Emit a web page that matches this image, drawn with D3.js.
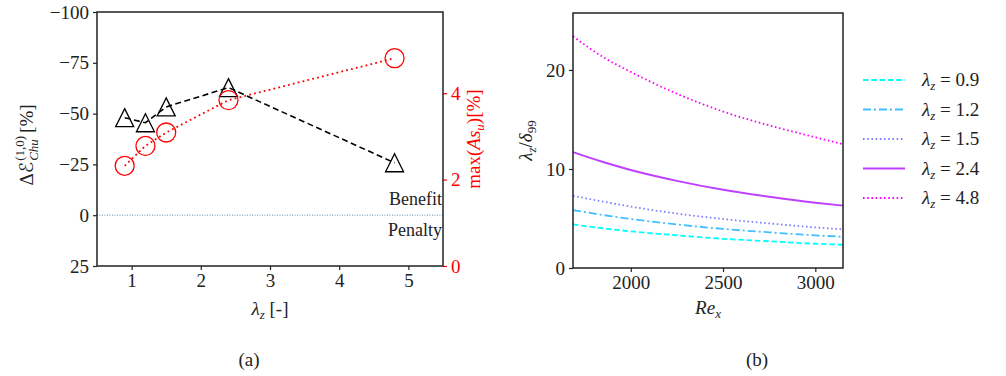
<!DOCTYPE html>
<html>
<head>
<meta charset="utf-8">
<script src="https://cdn.jsdelivr.net/npm/d3@7"></script>
<style>
  body { margin: 0; background: #fff; }
  svg, svg text { font-family: "Liberation Serif", "DejaVu Serif", serif; }
</style>
</head>
<body>
<svg id="chart" width="1006" height="376"></svg>
<script>
// Panel (a): energy change and max amplification vs spanwise wavelength
const lambdaZ = [0.9, 1.2, 1.5, 2.4, 4.8];
const deltaE = [-48, -45.5, -53.3, -62.8, -25.8];
const maxAs = [2.32, 2.78, 3.09, 3.84, 4.81];
const leftTicks = [-100, -75, -50, -25, 0, 25];
const xTicksA = [1, 2, 3, 4, 5];
const rightTicks = [0, 2, 4];

// Panel (b): lambda_z / delta_99 vs Re_x
const reX = [1687, 1850, 2000, 2250, 2500, 2750, 3000, 3150];
const ratio09 = [4.4, 4.0, 3.7, 3.3, 2.95, 2.7, 2.45, 2.35];
const ratio12 = [5.85, 5.35, 4.95, 4.4, 3.95, 3.6, 3.3, 3.15];
const ratio15 = [7.3, 6.7, 6.2, 5.5, 4.95, 4.5, 4.1, 3.9];
const ratio24 = [11.7, 10.7, 9.9, 8.8, 7.9, 7.2, 6.6, 6.3];
const ratio48 = [23.4, 21.3, 19.8, 17.6, 15.8, 14.4, 13.2, 12.5];
const seriesLabels = ['0.9', '1.2', '1.5', '2.4', '4.8'];
const xTicksB = [2000, 2500, 3000];
const yTicksB = [0, 10, 20];

const svg = d3.select('#chart');
const ink = '#222';
const fs = 19;
const fsSmall = 13;

function styleAxis(ax, color) {
  ax.attr('font-family', null).attr('font-size', fs);
  ax.selectAll('.domain').remove();
  ax.selectAll('.tick line').attr('stroke', color).attr('stroke-width', 1.2);
  ax.selectAll('text').attr('fill', color)
    .style('font-family', '"Liberation Serif", serif');
}

// ---------- panel (a) ----------
const A = { left: 97, right: 443, top: 12, bottom: 266 };
const xA = d3.scaleLinear().domain([0.5, 5.5]).range([A.left, A.right]);
const yA = d3.scaleLinear().domain([-100, 25]).range([A.top, A.bottom]);
const yR = d3.scaleLinear().domain([0, 5.88]).range([A.bottom, A.top]);

const ga = svg.append('g');

// zero reference line
ga.append('line')
  .attr('x1', A.left).attr('x2', A.right)
  .attr('y1', yA(0)).attr('y2', yA(0))
  .attr('stroke', '#3a6f9a').attr('stroke-width', 0.8)
  .attr('stroke-dasharray', '1,1.5');

ga.append('text').attr('x', A.right - 1).attr('y', 205).attr('text-anchor', 'end')
  .attr('font-size', 18).attr('fill', ink).text('Benefit');
ga.append('text').attr('x', A.right - 1).attr('y', 236).attr('text-anchor', 'end')
  .attr('font-size', 18).attr('fill', ink).text('Penalty');

// black dashed + triangles
const pairsE = lambdaZ.map((l, i) => [l, deltaE[i]]);
ga.append('path')
  .attr('d', d3.line().x(d => xA(d[0])).y(d => yA(d[1]))(pairsE))
  .attr('fill', 'none').attr('stroke', '#000').attr('stroke-width', 1.6)
  .attr('stroke-dasharray', '6,3.5');
ga.selectAll('path.tri').data(pairsE).enter().append('path')
  .attr('class', 'tri')
  .attr('d', d => {
    const cx = xA(d[0]), cy = yA(d[1]), h = 9;
    return `M${cx},${cy - h}L${cx + h},${cy + h}L${cx - h},${cy + h}Z`;
  })
  .attr('fill', 'none').attr('stroke', '#000').attr('stroke-width', 1.3);

// red dotted + circles
const pairsA = lambdaZ.map((l, i) => [l, maxAs[i]]);
ga.append('path')
  .attr('d', d3.line().x(d => xA(d[0])).y(d => yR(d[1]))(pairsA))
  .attr('fill', 'none').attr('stroke', '#ff0000').attr('stroke-width', 1.8)
  .attr('stroke-dasharray', '1.8,3.2');
ga.selectAll('circle.c').data(pairsA).enter().append('circle')
  .attr('class', 'c')
  .attr('cx', d => xA(d[0])).attr('cy', d => yR(d[1])).attr('r', 9.5)
  .attr('fill', 'none').attr('stroke', '#ff0000').attr('stroke-width', 1.3);

// axes
styleAxis(ga.append('g').attr('transform', `translate(${A.left},0)`)
  .call(d3.axisLeft(yA).tickValues(leftTicks).tickSize(4).tickPadding(4)), ink);
styleAxis(ga.append('g').attr('transform', `translate(0,${A.bottom})`)
  .call(d3.axisBottom(xA).tickValues(xTicksA).tickFormat(d3.format('d')).tickSize(4).tickPadding(4)), ink);
styleAxis(ga.append('g').attr('transform', `translate(${A.right},0)`)
  .call(d3.axisRight(yR).tickValues(rightTicks).tickFormat(d3.format('d')).tickSize(4).tickPadding(4)), '#ff0000');

ga.append('rect')
  .attr('x', A.left).attr('y', A.top)
  .attr('width', A.right - A.left).attr('height', A.bottom - A.top)
  .attr('fill', 'none').attr('stroke', ink).attr('stroke-width', 1.5);

// left axis label with stacked super/subscript
const lblL = ga.append('g')
  .attr('transform', `translate(33,${(A.top + A.bottom) / 2 + 6}) rotate(-90)`)
  .attr('fill', ink);
const tMain = lblL.append('text').attr('font-size', fs);
tMain.append('tspan').text('Δ');
tMain.append('tspan').style('font-family', '"DejaVu Serif", "DejaVu Sans", serif').attr('font-style', 'italic').text('ℰ');
const wMain = tMain.node().getComputedTextLength();
const tSup = lblL.append('text').attr('font-size', fsSmall).attr('x', wMain + 1).attr('y', -9).text('(1,0)');
const tSub = lblL.append('text').attr('font-size', fsSmall).attr('font-style', 'italic')
  .attr('x', wMain + 1).attr('y', 5).text('Chu');
const wStack = Math.max(tSup.node().getComputedTextLength(), tSub.node().getComputedTextLength());
const tPct = lblL.append('text').attr('font-size', fs).attr('x', wMain + wStack + 4).text('[%]');
const wAll = wMain + wStack + 4 + tPct.node().getComputedTextLength();
lblL.selectAll('text').attr('transform', `translate(${-wAll / 2},0)`);

const lblR = ga.append('text')
  .attr('transform', `translate(480,${(A.top + A.bottom) / 2}) rotate(-90)`)
  .attr('text-anchor', 'middle').attr('font-size', fs).attr('fill', '#ff0000');
lblR.append('tspan').text('max(');
lblR.append('tspan').attr('font-style', 'italic').text('As');
lblR.append('tspan').attr('font-style', 'italic').attr('font-size', fsSmall).attr('dy', 4).text('u');
lblR.append('tspan').attr('dy', -4).text(')[%]');

const lblX = ga.append('text').attr('x', (A.left + A.right) / 2).attr('y', 315)
  .attr('text-anchor', 'middle').attr('font-size', fs).attr('fill', ink);
lblX.append('tspan').attr('font-style', 'italic').text('λ');
lblX.append('tspan').attr('font-style', 'italic').attr('font-size', fsSmall).attr('dy', 4).text('z');
lblX.append('tspan').attr('dy', -4).text(' [-]');

ga.append('text').attr('x', 249).attr('y', 366).attr('text-anchor', 'middle')
  .attr('font-size', fs).attr('fill', ink).text('(a)');

// ---------- panel (b) ----------
const B = { left: 573, right: 843, top: 13, bottom: 268 };
const xB = d3.scaleLinear().domain([1687, 3150]).range([B.left, B.right]);
const yB = d3.scaleLinear().domain([0, 25.75]).range([B.bottom, B.top]);
const gb = svg.append('g');

const coolColors = ['#00ffff', '#40bfff', '#8080ff', '#bf40ff', '#ff00ff'];
const dashes = ['5.5,2.8', '8,3,2,3', '1.6,2.6', null, '1.6,2.6'];
const allSeries = [ratio09, ratio12, ratio15, ratio24, ratio48];

const lineB = d3.line().curve(d3.curveMonotoneX).x(d => xB(d[0])).y(d => yB(d[1]));
allSeries.forEach((s, k) => {
  gb.append('path')
    .attr('d', lineB(reX.map((r, i) => [r, s[i]])))
    .attr('fill', 'none').attr('stroke', coolColors[k]).attr('stroke-width', k === 3 ? 2 : 1.8)
    .attr('stroke-dasharray', dashes[k]);
});

styleAxis(gb.append('g').attr('transform', `translate(${B.left},0)`)
  .call(d3.axisLeft(yB).tickValues(yTicksB).tickSize(4).tickPadding(4)), ink);
styleAxis(gb.append('g').attr('transform', `translate(0,${B.bottom})`)
  .call(d3.axisBottom(xB).tickValues(xTicksB).tickFormat(d3.format('d')).tickSize(4).tickPadding(4)), ink);

gb.append('rect')
  .attr('x', B.left).attr('y', B.top)
  .attr('width', B.right - B.left).attr('height', B.bottom - B.top)
  .attr('fill', 'none').attr('stroke', ink).attr('stroke-width', 1.5);

const lblYB = gb.append('text')
  .attr('transform', `translate(532,${(B.top + B.bottom) / 2}) rotate(-90)`)
  .attr('text-anchor', 'middle').attr('font-size', fs).attr('fill', ink);
lblYB.append('tspan').attr('font-style', 'italic').text('λ');
lblYB.append('tspan').attr('font-style', 'italic').attr('font-size', fsSmall).attr('dy', 4).text('z');
lblYB.append('tspan').attr('dy', -4).text('/');
lblYB.append('tspan').attr('font-style', 'italic').text('δ');
lblYB.append('tspan').attr('font-size', fsSmall).attr('dy', 4).text('99');

const lblXB = gb.append('text').attr('x', (B.left + B.right) / 2).attr('y', 314)
  .attr('text-anchor', 'middle').attr('font-size', fs).attr('fill', ink);
lblXB.append('tspan').attr('font-style', 'italic').text('Re');
lblXB.append('tspan').attr('font-style', 'italic').attr('font-size', fsSmall).attr('dy', 4).text('x');

gb.append('text').attr('x', 757).attr('y', 366).attr('text-anchor', 'middle')
  .attr('font-size', fs).attr('fill', ink).text('(b)');

// legend
const legY = d3.scalePoint().domain(seriesLabels).range([80, 198]);
seriesLabels.forEach((lab, k) => {
  const y = legY(lab);
  gb.append('line').attr('x1', 863).attr('x2', 905).attr('y1', y).attr('y2', y)
    .attr('stroke', coolColors[k]).attr('stroke-width', k === 3 ? 2 : 1.8)
    .attr('stroke-dasharray', dashes[k]);
  const t = gb.append('text').attr('x', 922).attr('y', y + 6)
    .attr('font-size', fs).attr('fill', ink);
  t.append('tspan').attr('font-style', 'italic').text('λ');
  t.append('tspan').attr('font-style', 'italic').attr('font-size', fsSmall).attr('dy', 4).text('z');
  t.append('tspan').attr('dy', -4).text(' = ' + lab);
});
</script>
</body>
</html>
